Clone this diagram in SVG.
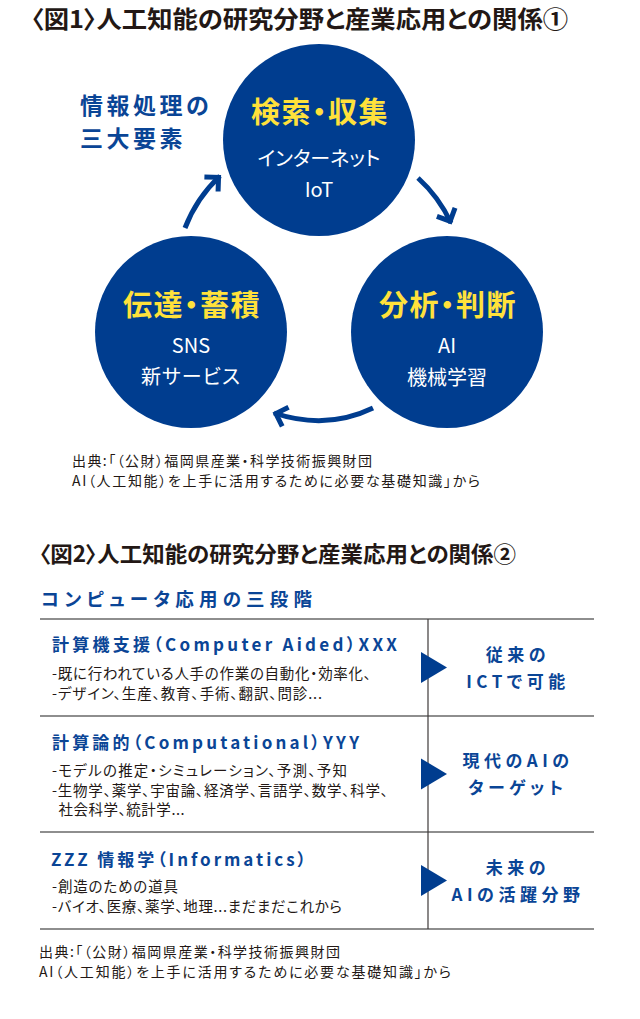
<svg xmlns="http://www.w3.org/2000/svg" width="640" height="1019" viewBox="0 0 640 1019">
<style>
text{font-family:"Noto Sans CJK JP","Noto Sans",sans-serif;font-feature-settings:"palt"}
.ttl{font-size:24px;font-weight:700;fill:#231815}
.ttl2{font-size:22px;font-weight:700;fill:#231815}
.src{font-size:14px;fill:#231815}
.circ{fill:#003d8f}
.hd{font-size:29px;font-weight:700;fill:#ffe13b;text-anchor:middle;letter-spacing:1.5px}
.sub{font-size:20px;fill:#ffffff;text-anchor:middle}
.navy{fill:#0a4596;font-weight:700}
.rh{font-size:17px;fill:#0a4596;font-weight:700}
.rt{font-size:14.5px;fill:#231815}
.rr{font-size:17px;fill:#0a4596;font-weight:700;text-anchor:middle;letter-spacing:4.5px}
.arr{fill:none;stroke:#003d8f;stroke-width:5}
.hl{stroke:#8e8e8e;stroke-width:2}
.tri{fill:#003d8f}
</style>
<defs>
<marker id="ah" markerUnits="userSpaceOnUse" orient="auto" overflow="visible" markerWidth="1" markerHeight="1" refX="0" refY="0">
<path d="M-12,-10 L-2,0 L-12,10" fill="none" stroke="#003d8f" stroke-width="5"/>
</marker>
</defs>
<rect width="640" height="1019" fill="#ffffff"/>

<g id="title1"><text class="ttl" x="31" y="27.5" textLength="537" lengthAdjust="spacingAndGlyphs">〈図1〉人工知能の研究分野と産業応用との関係①</text></g>

<g id="label-3elements">
<text class="navy" x="80" y="113.5" font-size="23" letter-spacing="3.5">情報処理の</text>
<text class="navy" x="80" y="146.5" font-size="23" letter-spacing="3.5">三大要素</text>
</g>

<g id="node-search">
<circle class="circ" cx="319" cy="140" r="96"/>
<text class="hd" x="320" y="123">検索・収集</text>
<text class="sub" x="319" y="166">インターネット</text>
<text class="sub" x="319" y="197" font-size="21">IoT</text>
</g>

<g id="node-transmit">
<circle class="circ" cx="191" cy="332" r="96"/>
<text class="hd" x="192" y="315.5">伝達・蓄積</text>
<text class="sub" x="191" y="353" font-size="21">SNS</text>
<text class="sub" x="191" y="384" letter-spacing="1">新サービス</text>
</g>

<g id="node-analyze">
<circle class="circ" cx="447" cy="332" r="96"/>
<text class="hd" x="448" y="315.5">分析・判断</text>
<text class="sub" x="447" y="353" font-size="21">AI</text>
<text class="sub" x="447" y="385" font-size="21.5">機械学習</text>
</g>

<g id="connectors">
<path class="arr" d="M185,228 Q196.5,198 220,176" marker-end="url(#ah)"/>
<path class="arr" d="M418,178 Q439,197 451,223" marker-end="url(#ah)"/>
<path class="arr" d="M373,408 Q326.5,430.5 274,413" marker-end="url(#ah)"/>
</g>

<g id="source1">
<text class="src" x="72" y="466" textLength="300">出典:「（公財）福岡県産業・科学技術振興財団</text>
<text class="src" x="72" y="486" textLength="408">AI（人工知能）を上手に活用するために必要な基礎知識」から</text>
</g>

<g id="title2"><text class="ttl2" x="39" y="561.5" textLength="477" lengthAdjust="spacingAndGlyphs">〈図2〉人工知能の研究分野と産業応用との関係②</text></g>

<g id="heading2"><text class="navy" x="41" y="606" font-size="18.5" textLength="271">コンピュータ応用の三段階</text></g>

<g id="table-lines">
<line class="hl" x1="40" y1="619" x2="594" y2="619"/>
<line class="hl" x1="40" y1="716" x2="594" y2="716"/>
<line class="hl" x1="40" y1="832" x2="594" y2="832"/>
<line class="hl" x1="40" y1="929" x2="594" y2="929"/>
<line x1="428" y1="619" x2="428" y2="929" stroke="#3e3a39" stroke-width="1.2"/>
</g>

<g id="row1">
<text class="rh" x="52" y="651" textLength="345">計算機支援（Computer Aided）XXX</text>
<text class="rt" x="52" y="679" textLength="319">-既に行われている人手の作業の自動化・効率化、</text>
<text class="rt" x="52" y="698.5" textLength="270">-デザイン、生産、教育、手術、翻訳、問診...</text>
<polygon class="tri" points="421,652 447,667.5 421,683"/>
<text class="rr" x="518" y="660.5">従来の</text>
<text class="rr" x="518" y="687.5">ICTで可能</text>
</g>

<g id="row2">
<text class="rh" x="52" y="749" textLength="307">計算論的（Computational）YYY</text>
<text class="rt" x="52" y="776" textLength="295">-モデルの推定・シミュレーション、予測、予知</text>
<text class="rt" x="52" y="795.5" textLength="336">-生物学、薬学、宇宙論、経済学、言語学、数学、科学、</text>
<text class="rt" x="58.5" y="815" textLength="126">社会科学、統計学...</text>
<polygon class="tri" points="421,758.5 447,774 421,789.5"/>
<text class="rr" x="518" y="767">現代のAIの</text>
<text class="rr" x="518" y="794">ターゲット</text>
</g>

<g id="row3">
<text class="rh" x="51" y="866" textLength="255">ZZZ 情報学（Informatics）</text>
<text class="rt" x="52" y="892" textLength="126">-創造のための道具</text>
<text class="rt" x="52" y="911.5" textLength="290">-バイオ、医療、薬学、地理...まだまだこれから</text>
<polygon class="tri" points="421,865 447,880.5 421,896"/>
<text class="rr" x="518" y="874">未来の</text>
<text class="rr" x="518" y="901">AIの活躍分野</text>
</g>

<g id="source2">
<text class="src" x="39" y="957" textLength="301">出典:「（公財）福岡県産業・科学技術振興財団</text>
<text class="src" x="39" y="977" textLength="412">AI（人工知能）を上手に活用するために必要な基礎知識」から</text>
</g>
</svg>
